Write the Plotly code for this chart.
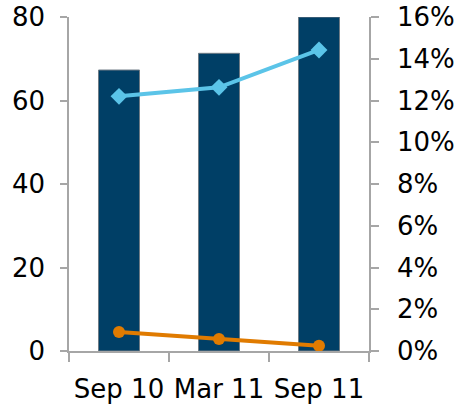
import plotly.graph_objects as go

# Reporting periods
periods = ["Sep 10", "Mar 11", "Sep 11"]

# Bar series (left axis)
volume = [67.3, 71.3, 80.0]

# Line series (right axis, fraction)
ratio_high = [0.122, 0.1263, 0.1442]
ratio_low = [0.0091, 0.0057, 0.0025]

left_ticks = [0, 20, 40, 60, 80]
right_ticks = [0, 0.02, 0.04, 0.06, 0.08, 0.10, 0.12, 0.14, 0.16]

FONT = "DejaVu Sans"
AXIS_GREY = "#A6A6A6"

fig = go.Figure()

fig.add_trace(go.Bar(
    x=periods, y=volume,
    marker=dict(color="#003F66", line=dict(color="#6E7B85", width=1)),
    yaxis="y",
))
fig.add_trace(go.Scatter(
    x=periods, y=ratio_high, yaxis="y2", mode="lines+markers",
    line=dict(color="#5BC4E8", width=4),
    marker=dict(symbol="diamond", size=13, color="#5BC4E8"),
))
fig.add_trace(go.Scatter(
    x=periods, y=ratio_low, yaxis="y2", mode="lines+markers",
    line=dict(color="#E07B00", width=4),
    marker=dict(symbol="circle", size=12, color="#E07B00"),
))

fig.update_layout(
    width=460, height=410,
    margin=dict(l=69, r=91, t=17, b=59, autoexpand=False),
    paper_bgcolor="white", plot_bgcolor="white",
    showlegend=False,
    bargap=0.59,
    font=dict(family=FONT, size=26, color="#000000"),
    xaxis=dict(
        type="category", tickson="boundaries", automargin=False,
        showline=True, linecolor=AXIS_GREY, linewidth=1.5,
        ticks="outside", ticklen=9, tickcolor=AXIS_GREY, tickwidth=1.5,
        showgrid=False, ticklabelstandoff=14,
    ),
    yaxis=dict(
        range=[0, 80], tickvals=left_ticks, automargin=False,
        showline=True, linecolor=AXIS_GREY, linewidth=1.5,
        ticks="outside", ticklen=7, tickcolor=AXIS_GREY, tickwidth=1.5,
        showgrid=False, zeroline=False, ticklabelstandoff=10,
    ),
    yaxis2=dict(
        range=[0, 0.16], tickvals=right_ticks, tickformat=".0%", automargin=False,
        overlaying="y", side="right",
        showline=True, linecolor=AXIS_GREY, linewidth=1.5,
        ticks="outside", ticklen=8, tickcolor=AXIS_GREY, tickwidth=1.5,
        showgrid=False, zeroline=False, ticklabelstandoff=13,
    ),
)

fig.write_html("out.html")
